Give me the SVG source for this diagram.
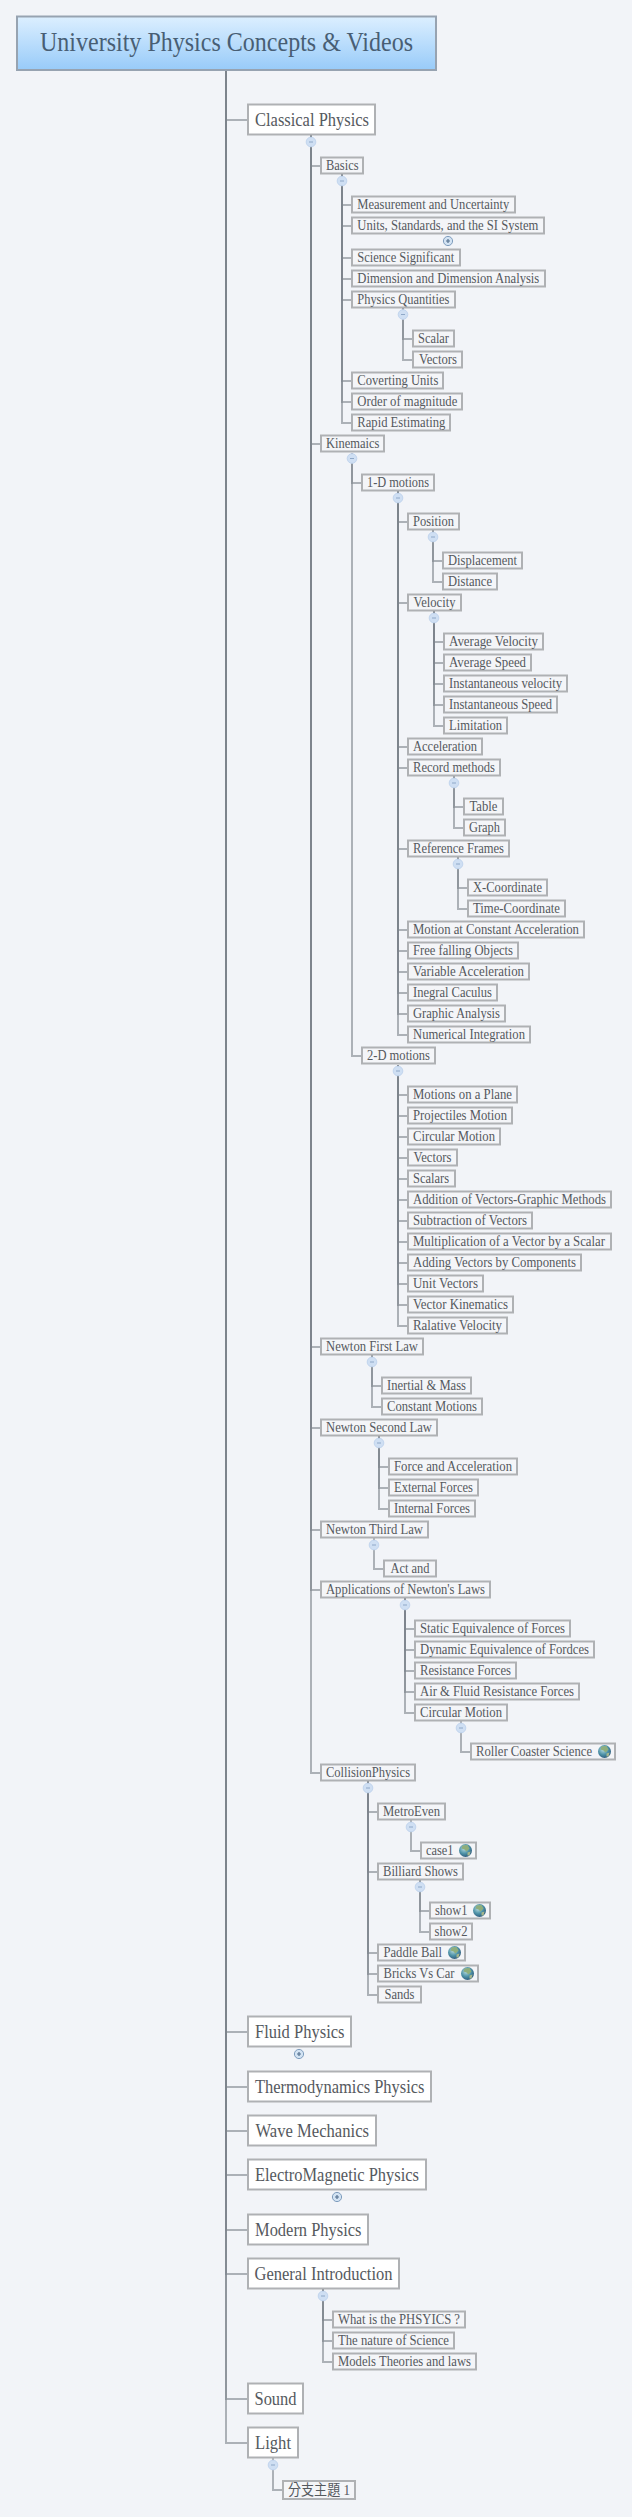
<svg xmlns="http://www.w3.org/2000/svg" width="632" height="2517" viewBox="0 0 632 2517">
<style>
text{font-family:"Liberation Serif","Noto Sans CJK TC",serif;fill:#55595e}
.s rect{fill:#f4f5f8;stroke:#afb1b4;stroke-width:2}
.s text{font-size:14.500px}
.l rect{fill:#fff;stroke:#afb1b4;stroke-width:2}
.l text{font-size:19.500px}
#conn path{fill:none;stroke:#7d848c;stroke-width:2;stroke-opacity:.6}
</style>
<defs>
<linearGradient id="rootFill" x1="0" y1="0" x2="0" y2="1"><stop offset="0" stop-color="#dcefff"/><stop offset="1" stop-color="#98cbf9"/></linearGradient>
<radialGradient id="earth" cx=".4" cy=".35" r=".7"><stop offset="0" stop-color="#b9dce0"/><stop offset=".55" stop-color="#4f93a8"/><stop offset="1" stop-color="#2a5578"/></radialGradient>
<g id="minus"><circle r="4.800" fill="#cfdff3" stroke="#c2d5ee" stroke-width="1"/><path d="M-2 0H2" stroke="#8fa8c8" stroke-width="1"/></g>
<g id="plus"><circle r="4.600" fill="#d3e3f3" stroke="#7f9dbd" stroke-width="1"/><path d="M-2 0H2M0-2V2" stroke="#55718f" stroke-width="1.200"/></g>
<g id="globe"><circle r="6.500" fill="url(#earth)"/><path d="M-3-5L2-5.500L4-2L1 1L-1-1L-4-2Z" fill="#8fae7c"/><path d="M2 2L5 1L4 5L2 5Z" fill="#a7b78c"/></g>
</defs>
<rect width="632" height="2517" fill="#f2f4f8"/>
<g id="conn">
<path d="M226 70V120H247"/><path d="M226 70V2032H247"/><path d="M226 70V2087H247"/><path d="M226 70V2131H247"/><path d="M226 70V2175H247"/><path d="M226 70V2230H247"/><path d="M226 70V2274H247"/><path d="M226 70V2399H247"/><path d="M226 70V2443H247"/>
<path d="M311 135V166H320"/><path d="M311 135V444H320"/><path d="M311 135V1347H320"/><path d="M311 135V1428H320"/><path d="M311 135V1530H320"/><path d="M311 135V1590H320"/><path d="M311 135V1773H320"/>
<path d="M342 174V205H351"/><path d="M342 174V226H351"/><path d="M342 174V258H351"/><path d="M342 174V279H351"/><path d="M342 174V300H351"/><path d="M342 174V381H351"/><path d="M342 174V402H351"/><path d="M342 174V423H351"/>
<path d="M403 308V339H412"/><path d="M403 308V360H412"/>
<path d="M352 453V483H361"/><path d="M352 453V1056H361"/>
<path d="M398 491V522H407"/><path d="M398 491V603H407"/><path d="M398 491V747H407"/><path d="M398 491V768H407"/><path d="M398 491V849H407"/><path d="M398 491V930H407"/><path d="M398 491V951H407"/><path d="M398 491V972H407"/><path d="M398 491V993H407"/><path d="M398 491V1014H407"/><path d="M398 491V1035H407"/>
<path d="M433 530V561H442"/><path d="M433 530V582H442"/>
<path d="M434 611V642H443"/><path d="M434 611V663H443"/><path d="M434 611V684H443"/><path d="M434 611V705H443"/><path d="M434 611V726H443"/>
<path d="M454 776V807H463"/><path d="M454 776V828H463"/>
<path d="M458 857V888H467"/><path d="M458 857V909H467"/>
<path d="M398 1065V1095H407"/><path d="M398 1065V1116H407"/><path d="M398 1065V1137H407"/><path d="M398 1065V1158H407"/><path d="M398 1065V1179H407"/><path d="M398 1065V1200H407"/><path d="M398 1065V1221H407"/><path d="M398 1065V1242H407"/><path d="M398 1065V1263H407"/><path d="M398 1065V1284H407"/><path d="M398 1065V1305H407"/><path d="M398 1065V1326H407"/>
<path d="M372 1355V1386H381"/><path d="M372 1355V1407H381"/>
<path d="M379 1436V1467H388"/><path d="M379 1436V1488H388"/><path d="M379 1436V1509H388"/>
<path d="M374 1538V1569H383"/>
<path d="M405 1598V1629H414"/><path d="M405 1598V1650H414"/><path d="M405 1598V1671H414"/><path d="M405 1598V1692H414"/><path d="M405 1598V1713H414"/>
<path d="M461 1721V1752H470"/>
<path d="M368 1781V1812H377"/><path d="M368 1781V1872H377"/><path d="M368 1781V1953H377"/><path d="M368 1781V1974H377"/><path d="M368 1781V1995H377"/>
<path d="M411 1820V1851H420"/>
<path d="M420 1880V1911H429"/><path d="M420 1880V1932H429"/>
<path d="M323 2289V2320H332"/><path d="M323 2289V2341H332"/><path d="M323 2289V2362H332"/>
<path d="M273 2458V2490H282"/>
</g>
<g id="root"><rect x="17" y="16.500" width="419" height="53.500" fill="url(#rootFill)" stroke="#97a3b1" stroke-width="2"/><text x="40" y="51" font-size="27.500" textLength="373" lengthAdjust="spacingAndGlyphs" style="fill:#485e74">University Physics Concepts &amp; Videos</text></g>

<g id="classical" class="l"><rect x="248" y="104.500" width="127" height="30"/><text x="255" y="125.500" textLength="114" lengthAdjust="spacingAndGlyphs">Classical Physics</text><use href="#minus" x="311" y="142"/></g>
<g id="basics" class="s"><rect x="321" y="157.500" width="42" height="16"/><text x="326" y="170.300" textLength="32.500" lengthAdjust="spacingAndGlyphs">Basics</text><use href="#minus" x="342" y="181"/></g>
<g id="measurement" class="s"><rect x="352" y="196.500" width="163" height="16"/><text x="357.300" y="209.300" textLength="152" lengthAdjust="spacingAndGlyphs">Measurement and Uncertainty</text></g>
<g id="units" class="s"><rect x="352" y="217.500" width="192" height="16"/><text x="357.300" y="230.300" textLength="181" lengthAdjust="spacingAndGlyphs">Units, Standards, and the SI System</text><use href="#plus" x="448" y="241"/></g>
<g id="science" class="s"><rect x="352" y="249.500" width="108" height="16"/><text x="357.300" y="262.300" textLength="97" lengthAdjust="spacingAndGlyphs">Science Significant</text></g>
<g id="dimension" class="s"><rect x="352" y="270.500" width="193" height="16"/><text x="357.300" y="283.300" textLength="182" lengthAdjust="spacingAndGlyphs">Dimension and Dimension Analysis</text></g>
<g id="quantities" class="s"><rect x="352" y="291.500" width="103" height="16"/><text x="357.300" y="304.300" textLength="92" lengthAdjust="spacingAndGlyphs">Physics Quantities</text><use href="#minus" x="403" y="314.500"/></g>
<g id="scalar" class="s"><rect x="413" y="330.500" width="41" height="16"/><text x="418" y="343.300" textLength="31" lengthAdjust="spacingAndGlyphs">Scalar</text></g>
<g id="vectors1" class="s"><rect x="413" y="351.500" width="49" height="16"/><text x="419" y="364.300" textLength="38" lengthAdjust="spacingAndGlyphs">Vectors</text></g>
<g id="coverting" class="s"><rect x="352" y="372.500" width="91" height="16"/><text x="357.300" y="385.300" textLength="81" lengthAdjust="spacingAndGlyphs">Coverting Units</text></g>
<g id="order" class="s"><rect x="352" y="393.500" width="110" height="16"/><text x="357.300" y="406.300" textLength="100" lengthAdjust="spacingAndGlyphs">Order of magnitude</text></g>
<g id="rapid" class="s"><rect x="352" y="414.500" width="98" height="16"/><text x="357.300" y="427.300" textLength="88" lengthAdjust="spacingAndGlyphs">Rapid Estimating</text></g>

<g id="kinemaics" class="s"><rect x="321" y="435.500" width="63" height="16"/><text x="326" y="448.300" textLength="53.500" lengthAdjust="spacingAndGlyphs">Kinemaics</text><use href="#minus" x="352" y="458.500"/></g>
<g id="d1" class="s"><rect x="362" y="474.500" width="72" height="16"/><text x="367" y="487.300" textLength="62" lengthAdjust="spacingAndGlyphs">1-D motions</text><use href="#minus" x="398" y="498"/></g>
<g id="position" class="s"><rect x="408" y="513.500" width="51" height="16"/><text x="413" y="526.300" textLength="41" lengthAdjust="spacingAndGlyphs">Position</text><use href="#minus" x="433" y="537"/></g>
<g id="displacement" class="s"><rect x="443" y="552.500" width="79" height="16"/><text x="448" y="565.300" textLength="69" lengthAdjust="spacingAndGlyphs">Displacement</text></g>
<g id="distance" class="s"><rect x="443" y="573.500" width="54" height="16"/><text x="448" y="586.300" textLength="44" lengthAdjust="spacingAndGlyphs">Distance</text></g>
<g id="velocity" class="s"><rect x="408" y="594.500" width="53" height="16"/><text x="413.500" y="607.300" textLength="42" lengthAdjust="spacingAndGlyphs">Velocity</text><use href="#minus" x="434" y="618"/></g>
<g id="avgv" class="s"><rect x="444" y="633.500" width="99" height="16"/><text x="449" y="646.300" textLength="89" lengthAdjust="spacingAndGlyphs">Average Velocity</text></g>
<g id="avgs" class="s"><rect x="444" y="654.500" width="87" height="16"/><text x="449" y="667.300" textLength="77" lengthAdjust="spacingAndGlyphs">Average Speed</text></g>
<g id="instv" class="s"><rect x="444" y="675.500" width="123" height="16"/><text x="449" y="688.300" textLength="113" lengthAdjust="spacingAndGlyphs">Instantaneous velocity</text></g>
<g id="insts" class="s"><rect x="444" y="696.500" width="113" height="16"/><text x="449" y="709.300" textLength="103" lengthAdjust="spacingAndGlyphs">Instantaneous Speed</text></g>
<g id="limitation" class="s"><rect x="444" y="717.500" width="63" height="16"/><text x="449" y="730.300" textLength="53" lengthAdjust="spacingAndGlyphs">Limitation</text></g>
<g id="acceleration" class="s"><rect x="408" y="738.500" width="74" height="16"/><text x="413" y="751.300" textLength="64" lengthAdjust="spacingAndGlyphs">Acceleration</text></g>
<g id="record" class="s"><rect x="408" y="759.500" width="92" height="16"/><text x="413" y="772.300" textLength="82" lengthAdjust="spacingAndGlyphs">Record methods</text><use href="#minus" x="454" y="783"/></g>
<g id="table" class="s"><rect x="464" y="798.500" width="39" height="16"/><text x="469.500" y="811.300" textLength="28" lengthAdjust="spacingAndGlyphs">Table</text></g>
<g id="graph" class="s"><rect x="464" y="819.500" width="41" height="16"/><text x="469" y="832.300" textLength="31" lengthAdjust="spacingAndGlyphs">Graph</text></g>
<g id="frames" class="s"><rect x="408" y="840.500" width="101" height="16"/><text x="413" y="853.300" textLength="91" lengthAdjust="spacingAndGlyphs">Reference Frames</text><use href="#minus" x="458" y="864"/></g>
<g id="xcoord" class="s"><rect x="468" y="879.500" width="79" height="16"/><text x="473" y="892.300" textLength="69" lengthAdjust="spacingAndGlyphs">X-Coordinate</text></g>
<g id="tcoord" class="s"><rect x="468" y="900.500" width="97" height="16"/><text x="473" y="913.300" textLength="87" lengthAdjust="spacingAndGlyphs">Time-Coordinate</text></g>
<g id="constant" class="s"><rect x="408" y="921.500" width="176" height="16"/><text x="413" y="934.300" textLength="166" lengthAdjust="spacingAndGlyphs">Motion at Constant Acceleration</text></g>
<g id="free" class="s"><rect x="408" y="942.500" width="110" height="16"/><text x="413" y="955.300" textLength="100" lengthAdjust="spacingAndGlyphs">Free falling Objects</text></g>
<g id="variable" class="s"><rect x="408" y="963.500" width="121" height="16"/><text x="413" y="976.300" textLength="111" lengthAdjust="spacingAndGlyphs">Variable Acceleration</text></g>
<g id="inegral" class="s"><rect x="408" y="984.500" width="89" height="16"/><text x="413" y="997.300" textLength="79" lengthAdjust="spacingAndGlyphs">Inegral Caculus</text></g>
<g id="graphic" class="s"><rect x="408" y="1005.500" width="97" height="16"/><text x="413" y="1018.300" textLength="87" lengthAdjust="spacingAndGlyphs">Graphic Analysis</text></g>
<g id="numerical" class="s"><rect x="408" y="1026.500" width="122" height="16"/><text x="413" y="1039.300" textLength="112" lengthAdjust="spacingAndGlyphs">Numerical Integration</text></g>

<g id="d2" class="s"><rect x="362" y="1047.500" width="73" height="16"/><text x="367" y="1060.300" textLength="63" lengthAdjust="spacingAndGlyphs">2-D motions</text><use href="#minus" x="398" y="1071"/></g>
<g id="plane" class="s"><rect x="408" y="1086.500" width="109" height="16"/><text x="413" y="1099.300" textLength="99" lengthAdjust="spacingAndGlyphs">Motions on a Plane</text></g>
<g id="projectiles" class="s"><rect x="408" y="1107.500" width="104" height="16"/><text x="413" y="1120.300" textLength="94" lengthAdjust="spacingAndGlyphs">Projectiles Motion</text></g>
<g id="circular1" class="s"><rect x="408" y="1128.500" width="92" height="16"/><text x="413" y="1141.300" textLength="82" lengthAdjust="spacingAndGlyphs">Circular Motion</text></g>
<g id="vectors2" class="s"><rect x="408" y="1149.500" width="49" height="16"/><text x="413.500" y="1162.300" textLength="38" lengthAdjust="spacingAndGlyphs">Vectors</text></g>
<g id="scalars" class="s"><rect x="408" y="1170.500" width="47" height="16"/><text x="413" y="1183.300" textLength="36" lengthAdjust="spacingAndGlyphs">Scalars</text></g>
<g id="addition" class="s"><rect x="408" y="1191.500" width="203" height="16"/><text x="413" y="1204.300" textLength="193" lengthAdjust="spacingAndGlyphs">Addition of Vectors-Graphic Methods</text></g>
<g id="subtraction" class="s"><rect x="408" y="1212.500" width="124" height="16"/><text x="413" y="1225.300" textLength="114" lengthAdjust="spacingAndGlyphs">Subtraction of Vectors</text></g>
<g id="multiplication" class="s"><rect x="408" y="1233.500" width="203" height="16"/><text x="413" y="1246.300" textLength="192" lengthAdjust="spacingAndGlyphs">Multiplication of a Vector by a Scalar</text></g>
<g id="adding" class="s"><rect x="408" y="1254.500" width="173" height="16"/><text x="413" y="1267.300" textLength="163" lengthAdjust="spacingAndGlyphs">Adding Vectors by Components</text></g>
<g id="unit" class="s"><rect x="408" y="1275.500" width="75" height="16"/><text x="413" y="1288.300" textLength="65" lengthAdjust="spacingAndGlyphs">Unit Vectors</text></g>
<g id="vkin" class="s"><rect x="408" y="1296.500" width="105" height="16"/><text x="413" y="1309.300" textLength="95" lengthAdjust="spacingAndGlyphs">Vector Kinematics</text></g>
<g id="ralative" class="s"><rect x="408" y="1317.500" width="99" height="16"/><text x="413" y="1330.300" textLength="89" lengthAdjust="spacingAndGlyphs">Ralative Velocity</text></g>

<g id="first" class="s"><rect x="321" y="1338.500" width="102" height="16"/><text x="326" y="1351.300" textLength="92" lengthAdjust="spacingAndGlyphs">Newton First Law</text><use href="#minus" x="372" y="1362"/></g>
<g id="inertial" class="s"><rect x="382" y="1377.500" width="89" height="16"/><text x="387" y="1390.300" textLength="79" lengthAdjust="spacingAndGlyphs">Inertial &amp; Mass</text></g>
<g id="constmot" class="s"><rect x="382" y="1398.500" width="100" height="16"/><text x="387" y="1411.300" textLength="90" lengthAdjust="spacingAndGlyphs">Constant Motions</text></g>
<g id="second" class="s"><rect x="321" y="1419.500" width="116" height="16"/><text x="326" y="1432.300" textLength="106" lengthAdjust="spacingAndGlyphs">Newton Second Law</text><use href="#minus" x="379" y="1443"/></g>
<g id="force" class="s"><rect x="389" y="1458.500" width="128" height="16"/><text x="394" y="1471.300" textLength="118" lengthAdjust="spacingAndGlyphs">Force and Acceleration</text></g>
<g id="external" class="s"><rect x="389" y="1479.500" width="89" height="16"/><text x="394" y="1492.300" textLength="79" lengthAdjust="spacingAndGlyphs">External Forces</text></g>
<g id="internal" class="s"><rect x="389" y="1500.500" width="86" height="16"/><text x="394" y="1513.300" textLength="76" lengthAdjust="spacingAndGlyphs">Internal Forces</text></g>
<g id="third" class="s"><rect x="321" y="1521.500" width="107" height="16"/><text x="326" y="1534.300" textLength="97" lengthAdjust="spacingAndGlyphs">Newton Third Law</text><use href="#minus" x="374" y="1545"/></g>
<g id="act" class="s"><rect x="384" y="1560.500" width="52" height="16"/><text x="390.500" y="1573.300" textLength="39" lengthAdjust="spacingAndGlyphs">Act and</text></g>
<g id="applications" class="s"><rect x="321" y="1581.500" width="169" height="16"/><text x="326" y="1594.300" textLength="159" lengthAdjust="spacingAndGlyphs">Applications of Newton's Laws</text><use href="#minus" x="405" y="1605"/></g>
<g id="static" class="s"><rect x="415" y="1620.500" width="155" height="16"/><text x="420" y="1633.300" textLength="145" lengthAdjust="spacingAndGlyphs">Static Equivalence of Forces</text></g>
<g id="dynamic" class="s"><rect x="415" y="1641.500" width="179" height="16"/><text x="420" y="1654.300" textLength="169" lengthAdjust="spacingAndGlyphs">Dynamic Equivalence of Fordces</text></g>
<g id="resistance" class="s"><rect x="415" y="1662.500" width="101" height="16"/><text x="420" y="1675.300" textLength="91" lengthAdjust="spacingAndGlyphs">Resistance Forces</text></g>
<g id="air" class="s"><rect x="415" y="1683.500" width="164" height="16"/><text x="420" y="1696.300" textLength="154" lengthAdjust="spacingAndGlyphs">Air &amp; Fluid Resistance Forces</text></g>
<g id="circular2" class="s"><rect x="415" y="1704.500" width="92" height="16"/><text x="420" y="1717.300" textLength="82" lengthAdjust="spacingAndGlyphs">Circular Motion</text><use href="#minus" x="461" y="1728"/></g>
<g id="roller" class="s"><rect x="471" y="1743.500" width="144" height="16"/><text x="476" y="1756.300" textLength="116" lengthAdjust="spacingAndGlyphs">Roller Coaster Science</text><use href="#globe" x="604.500" y="1751.500"/></g>
<g id="collision" class="s"><rect x="321" y="1764.500" width="94" height="16"/><text x="326" y="1777.300" textLength="84" lengthAdjust="spacingAndGlyphs">CollisionPhysics</text><use href="#minus" x="368" y="1788"/></g>
<g id="metro" class="s"><rect x="378" y="1803.500" width="67" height="16"/><text x="383" y="1816.300" textLength="57" lengthAdjust="spacingAndGlyphs">MetroEven</text><use href="#minus" x="411" y="1827"/></g>
<g id="case1" class="s"><rect x="421" y="1842.500" width="55" height="16"/><text x="426" y="1855.300" textLength="27.500" lengthAdjust="spacingAndGlyphs">case1</text><use href="#globe" x="465.500" y="1850.500"/></g>
<g id="billiard" class="s"><rect x="378" y="1863.500" width="85" height="16"/><text x="383" y="1876.300" textLength="75" lengthAdjust="spacingAndGlyphs">Billiard Shows</text><use href="#minus" x="420" y="1887"/></g>
<g id="show1" class="s"><rect x="430" y="1902.500" width="60" height="16"/><text x="435" y="1915.300" textLength="32.500" lengthAdjust="spacingAndGlyphs">show1</text><use href="#globe" x="479.500" y="1910.500"/></g>
<g id="show2" class="s"><rect x="430" y="1923.500" width="42" height="16"/><text x="434.500" y="1936.300" textLength="33" lengthAdjust="spacingAndGlyphs">show2</text></g>
<g id="paddle" class="s"><rect x="378" y="1944.500" width="87" height="16"/><text x="383.500" y="1957.300" textLength="58.500" lengthAdjust="spacingAndGlyphs">Paddle Ball</text><use href="#globe" x="454.500" y="1952.500"/></g>
<g id="bricks" class="s"><rect x="378" y="1965.500" width="100" height="16"/><text x="383.500" y="1978.300" textLength="71" lengthAdjust="spacingAndGlyphs">Bricks Vs Car</text><use href="#globe" x="467.500" y="1973.500"/></g>
<g id="sands" class="s"><rect x="378" y="1986.500" width="43" height="16"/><text x="384.500" y="1999.300" textLength="30" lengthAdjust="spacingAndGlyphs">Sands</text></g>

<g id="fluid" class="l"><rect x="248" y="2016.500" width="103" height="30"/><text x="255" y="2037.500" textLength="89.500" lengthAdjust="spacingAndGlyphs">Fluid Physics</text><use href="#plus" x="299" y="2054"/></g>
<g id="thermo" class="l"><rect x="248" y="2071.500" width="183" height="30"/><text x="255" y="2092.500" textLength="169.500" lengthAdjust="spacingAndGlyphs">Thermodynamics Physics</text></g>
<g id="wave" class="l"><rect x="248" y="2115.500" width="128" height="30"/><text x="255.500" y="2136.500" textLength="113.500" lengthAdjust="spacingAndGlyphs">Wave Mechanics</text></g>
<g id="electro" class="l"><rect x="248" y="2159.500" width="178" height="30"/><text x="255" y="2180.500" textLength="164" lengthAdjust="spacingAndGlyphs">ElectroMagnetic Physics</text><use href="#plus" x="337" y="2197"/></g>
<g id="modern" class="l"><rect x="248" y="2214.500" width="120" height="30"/><text x="255" y="2235.500" textLength="106.500" lengthAdjust="spacingAndGlyphs">Modern Physics</text></g>
<g id="general" class="l"><rect x="248" y="2258.500" width="151" height="30"/><text x="254.500" y="2279.500" textLength="138" lengthAdjust="spacingAndGlyphs">General Introduction</text><use href="#minus" x="323" y="2296"/></g>
<g id="what" class="s"><rect x="333" y="2311.500" width="132" height="16"/><text x="338" y="2324.300" textLength="122" lengthAdjust="spacingAndGlyphs">What is the PHSYICS ?</text></g>
<g id="nature" class="s"><rect x="333" y="2332.500" width="121" height="16"/><text x="338" y="2345.300" textLength="111" lengthAdjust="spacingAndGlyphs">The nature of Science</text></g>
<g id="models" class="s"><rect x="333" y="2353.500" width="143" height="16"/><text x="338" y="2366.300" textLength="133" lengthAdjust="spacingAndGlyphs">Models Theories and laws</text></g>
<g id="sound" class="l"><rect x="248" y="2383.500" width="55" height="30"/><text x="254.500" y="2404.500" textLength="42" lengthAdjust="spacingAndGlyphs">Sound</text></g>
<g id="light" class="l"><rect x="248" y="2427.500" width="50" height="30"/><text x="255" y="2448.500" textLength="36" lengthAdjust="spacingAndGlyphs">Light</text><use href="#minus" x="273" y="2465"/></g>
<g id="branch" class="s"><rect x="283" y="2481" width="72" height="18"/><text x="288" y="2495" textLength="62" lengthAdjust="spacingAndGlyphs">分支主題 1</text></g>
</svg>
